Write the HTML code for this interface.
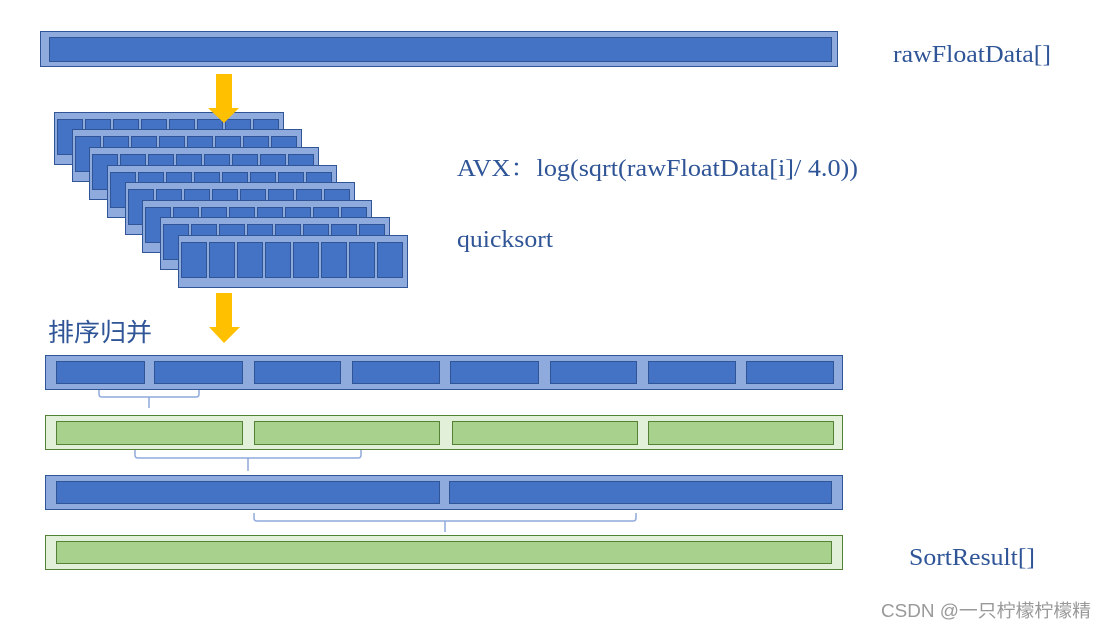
<!DOCTYPE html>
<html><head><meta charset="utf-8"><style>
html,body{margin:0;padding:0;background:#fff;width:1108px;height:628px;overflow:hidden}
</style></head><body>
<svg width="1108" height="628" viewBox="0 0 1108 628" xmlns="http://www.w3.org/2000/svg">
<defs>
<g id="layer">
<rect x="0.5" y="0.5" width="229" height="52" fill="#8FAADC" stroke="#2F5597" stroke-width="1"/>
<g fill="#4472C4" stroke="#2F5597" stroke-width="1">
<rect x="3.5" y="7.5" width="25" height="35"/><rect x="31.5" y="7.5" width="25" height="35"/>
<rect x="59.5" y="7.5" width="25" height="35"/><rect x="87.5" y="7.5" width="25" height="35"/>
<rect x="115.5" y="7.5" width="25" height="35"/><rect x="143.5" y="7.5" width="25" height="35"/>
<rect x="171.5" y="7.5" width="25" height="35"/><rect x="199.5" y="7.5" width="25" height="35"/>
</g>
</g>
</defs>
<rect x="40.5" y="31.5" width="797" height="35" fill="#8FAADC" stroke="#2F5597"/>
<rect x="49.5" y="37.5" width="782" height="24" fill="#4472C4" stroke="#2F5597"/>
<use href="#layer" x="54" y="112"/>
<use href="#layer" x="72" y="129"/>
<use href="#layer" x="89" y="147"/>
<use href="#layer" x="107" y="165"/>
<use href="#layer" x="125" y="182"/>
<use href="#layer" x="142" y="200"/>
<use href="#layer" x="160" y="217"/>
<use href="#layer" x="178" y="235"/>
<polygon points="216,74 232,74 232,108 239,108 224,123 208,108 216,108" fill="#FFC000"/>
<polygon points="216,293 232,293 232,327 240,327 224,343 209,327 216,327" fill="#FFC000"/>
<rect x="45.5" y="355.5" width="797" height="34" fill="#8FAADC" stroke="#2F5597"/>
<g fill="#4472C4" stroke="#2F5597">
<rect x="56.5" y="361.5" width="88" height="22"/><rect x="154.5" y="361.5" width="88" height="22"/>
<rect x="254.5" y="361.5" width="86" height="22"/><rect x="352.5" y="361.5" width="87" height="22"/>
<rect x="450.5" y="361.5" width="88" height="22"/><rect x="550.5" y="361.5" width="86" height="22"/>
<rect x="648.5" y="361.5" width="87" height="22"/><rect x="746.5" y="361.5" width="87" height="22"/>
</g>
<rect x="45.5" y="415.5" width="797" height="34" fill="#E2F0D9" stroke="#548235"/>
<g fill="#A9D18E" stroke="#548235">
<rect x="56.5" y="421.5" width="186" height="23"/><rect x="254.5" y="421.5" width="185" height="23"/>
<rect x="452.5" y="421.5" width="185" height="23"/><rect x="648.5" y="421.5" width="185" height="23"/>
</g>
<rect x="45.5" y="475.5" width="797" height="34" fill="#8FAADC" stroke="#2F5597"/>
<g fill="#4472C4" stroke="#2F5597">
<rect x="56.5" y="481.5" width="383" height="22"/><rect x="449.5" y="481.5" width="382" height="22"/>
</g>
<rect x="45.5" y="535.5" width="797" height="34" fill="#E2F0D9" stroke="#548235"/>
<rect x="56.5" y="541.5" width="775" height="22" fill="#A9D18E" stroke="#548235"/>
<g fill="none" stroke="#8FAADC" stroke-width="1.5">
<path d="M99,390 v4 q0,3 3,3 h94 q3,0 3,-3 v-4 M149,397 v11"/>
<path d="M135,450 v5 q0,3 3,3 h220 q3,0 3,-3 v-5 M248,458 v13"/>
<path d="M254,513 v5 q0,3 3,3 h376 q3,0 3,-3 v-5 M445,521 v11"/>
</g>
<g font-family="'Liberation Serif', 'Noto Serif CJK SC', serif" fill="#2F5597" font-size="24" lengthAdjust="spacingAndGlyphs">
<text x="893" y="62" textLength="158" lengthAdjust="spacingAndGlyphs">rawFloatData[]</text>
<text x="457" y="176" textLength="401" lengthAdjust="spacingAndGlyphs">AVX：log(sqrt(rawFloatData[i]/ 4.0))</text>
<text x="457" y="247" textLength="96" lengthAdjust="spacingAndGlyphs">quicksort</text>
<text x="909" y="565" textLength="126" lengthAdjust="spacingAndGlyphs">SortResult[]</text>
</g>
<text x="48" y="341" font-family="'Noto Sans CJK SC', sans-serif" font-size="25" fill="#2F5597" textLength="104" lengthAdjust="spacingAndGlyphs">排序归并</text>
<text x="881" y="617" font-family="'Liberation Sans', 'Noto Sans CJK SC', sans-serif" font-size="18" fill="#999" textLength="210" lengthAdjust="spacingAndGlyphs">CSDN @一只柠檬柠檬精</text>
</svg>
</body></html>
